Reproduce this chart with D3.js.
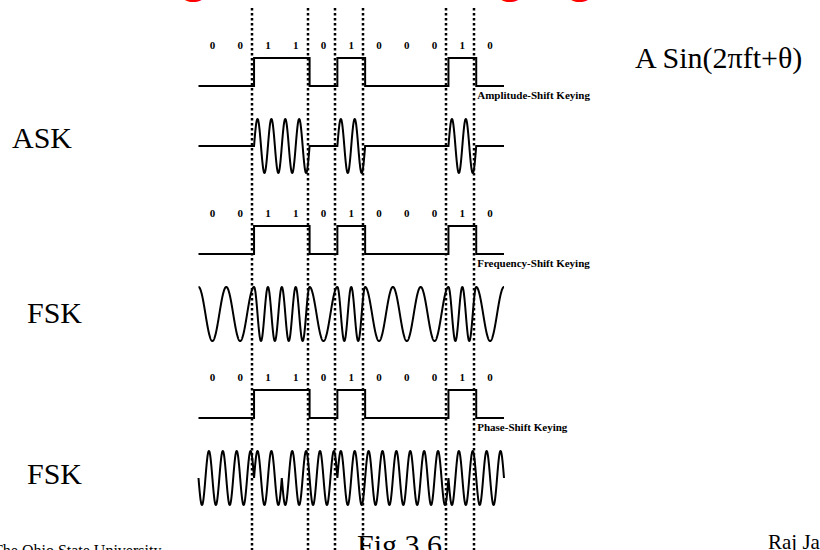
<!DOCTYPE html>
<html>
<head>
<meta charset="utf-8">
<script src="https://cdnjs.cloudflare.com/ajax/libs/d3/7.8.5/d3.min.js"></script>
<style>
body { margin: 0; background: white; }
svg { display: block; font-family: "Liberation Serif", "Times New Roman", serif; }
</style>
</head>
<body>
<script>
var bits = [0, 0, 1, 1, 0, 1, 0, 0, 0, 1, 0];
var schemes = ["ASK", "FSK", "FSK"]; // left hand names, as printed on the slide
var keyingNames = ["Amplitude-Shift Keying", "Frequency-Shift Keying", "Phase-Shift Keying"];
var askCycles = 2;       // carrier cycles in a "1" bit
var fskCycles = [1, 2];  // cycles per bit for a 0 and for a 1
var pskCycles = 2;
var title = "Digital Data, Analog Signals";
var formula = "A Sin(2\u03c0ft+\u03b8)";
var footer = ["The Ohio State University", "Fig 3.6", "Raj Jain"];

var width = 820,
    height = 550;

var svg = d3.select("body").append("svg")
	.attr("width", width)
	.attr("height", height);

var x = d3.scaleLinear().domain([0, bits.length]).range([198.5, 504]);
var panelY = [45, 213, 377]; //row of bit labels in each panel

// phase sign for differential psk: flips at every 1
var sign = [], s = 1;
bits.forEach(function(b){ if (b == 1) s = -s; sign.push(s); });

function bitAt(t){ return Math.min(Math.floor(t), bits.length - 1); }

function wave(kind){
	var pts = [];
	for (var t = 0; t <= bits.length + 1e-9; t += 0.005) {
		var b = bitAt(t), v;
		if (kind == 0) v = bits[b] ? Math.sin(2 * Math.PI * askCycles * t) : 0;
		if (kind == 1) v = Math.cos(2 * Math.PI * fskCycles[bits[b]] * (t - b));
		if (kind == 2) v = -sign[b] * Math.sin(2 * Math.PI * pskCycles * t);
		pts.push({t: t, v: v});
	}
	return pts;
}

var steps = bits.map(function(b, i){ return {t: i, v: b}; });
steps.push({t: bits.length, v: bits[bits.length - 1]});

// dotted lines at every change of bit value
var edges = d3.range(1, bits.length).filter(function(i){ return bits[i] != bits[i-1]; });
svg.selectAll("line.edge").data(edges).enter().append("line")
	.attr("class", "edge")
	.attr("x1", function(d){ return Math.round(x(d) - 2); })
	.attr("x2", function(d){ return Math.round(x(d) - 2); })
	.attr("y1", 8)
	.attr("y2", height)
	.attr("stroke", "black")
	.attr("stroke-width", 2.5)
	.attr("stroke-dasharray", "2.5,2.5");

keyingNames.forEach(function(name, k){
	var top = panelY[k];
	var ySq = d3.scaleLinear().domain([0, 1]).range([top + 41, top + 13]);
	var yW = d3.scaleLinear().domain([-1, 1]).range([top + 128, top + 74]);

	svg.selectAll("text.bit" + k).data(bits).enter().append("text")
		.attr("class", "bit" + k)
		.attr("x", function(d, i){ return x(i + 0.5); })
		.attr("y", top + 4)
		.attr("text-anchor", "middle")
		.style("font-size", "11px")
		.style("font-weight", "bold")
		.text(function(d){ return d; });

	svg.append("path") //square wave
		.datum(steps)
		.attr("d", d3.line().curve(d3.curveStepAfter)
			.x(function(d){ return x(d.t); })
			.y(function(d){ return ySq(d.v); }))
		.attr("fill", "none")
		.attr("stroke", "black")
		.attr("stroke-width", 2);

	svg.append("text")
		.attr("x", x(10) + 1)
		.attr("y", top + 54)
		.style("font-size", "11px")
		.style("font-weight", "bold")
		.text(name);

	svg.append("path") //modulated carrier
		.datum(wave(k))
		.attr("d", d3.line()
			.x(function(d){ return x(d.t); })
			.y(function(d){ return yW(d.v); }))
		.attr("fill", "none")
		.attr("stroke", "black")
		.attr("stroke-width", 2);
});

svg.selectAll("text.scheme").data(schemes).enter().append("text")
	.attr("class", "scheme")
	.attr("x", function(d, i){ return i == 0 ? 12 : 27; })
	.attr("y", function(d, i){ return panelY[i] + [103, 110, 107][i]; })
	.style("font-size", "30px")
	.text(function(d){ return d; });

svg.append("text")
	.attr("x", 635)
	.attr("y", 68)
	.style("font-size", "30px")
	.text(formula);

svg.append("text") //title, mostly off the top of the page
	.attr("x", 139)
	.attr("y", -7)
	.style("font-size", "44px")
	.style("font-weight", "bold")
	.attr("fill", "red")
	.text(title);

svg.selectAll("text.foot").data(footer).enter().append("text")
	.attr("class", "foot")
	.attr("x", function(d, i){ return [-7, 357, 768][i]; })
	.attr("y", function(d, i){ return [556, 555, 549][i]; })
	.style("font-size", function(d, i){ return [16, 30, 21][i] + "px"; })
	.text(function(d){ return d; });
</script>
</body>
</html>
